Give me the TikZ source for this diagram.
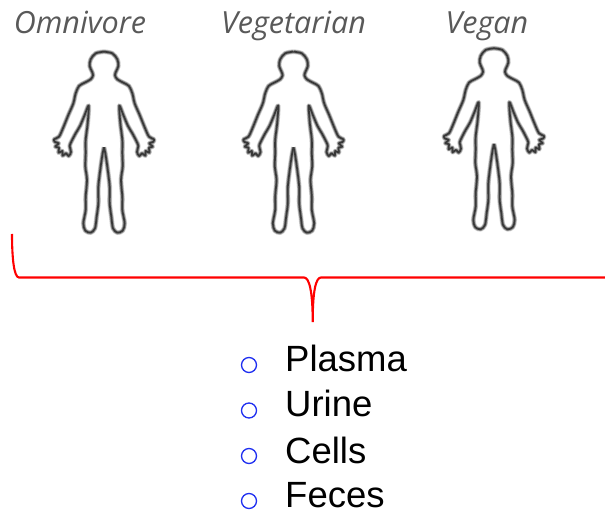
\documentclass[tikz,border=0pt]{standalone}
\usepackage{fontspec}
\setmainfont{Liberation Sans}
\newfontfamily\labelfont{Open Sans}
\definecolor{lab}{HTML}{595959}
\definecolor{bul}{HTML}{1F2FF0}
\tikzset{
  x=1pt,y=-1pt,
  figlabel/.style={font=\labelfont\itshape\fontsize{30.5}{34}\selectfont,text=lab,inner sep=0pt,anchor=base},
  item/.style={font=\fontsize{36.5}{40}\selectfont,text=black,inner sep=0pt,anchor=base west},
  dot/.style={circle,draw=bul,line width=1.3pt,minimum size=15pt,inner sep=0pt},
  bracket/.style={draw=red,line width=2.1pt},
}
\newcommand{\halfbody}{plot[smooth,tension=0.5] coordinates {
 (0,35)(25,40)(40,58)(43,78)(36,95)(33,106)(40,118)(58,128)(75,138)(85,160)(92,190)(107,225)(122,262)(135,290)(150,298)(147,306)(136,310)(146,320)(135,323)(136,338)(125,333)(124,347)(114,340)(106,348)(99,336)(103,318)(97,303)(85,280)(72,258)(58,225)(46,197)
 (49,250)(55,300)(55,340)(56,380)(51,420)(55,470)(55,510)(62,550)(56,572)(40,578)(27,565)(22,530)(17,490)(17,440)(10,380)(4,340)(0,322)}}
\newcommand{\bodylayer}[2]{%
 \draw[line width=#1,draw=#2,line join=round] \halfbody;
 \draw[line width=#1,draw=#2,line join=round,xscale=-1] \halfbody;}
\tikzset{humanbody/.pic={
 \begin{scope}[x=0.3333pt,y=-0.3333pt,shift={(0,-306)}]
 \bodylayer{4.8pt}{black!18}
 \bodylayer{3.4pt}{black!45}
 \bodylayer{1.7pt}{black!78}
 \end{scope}}}
\begin{document}
\begin{tikzpicture}
\useasboundingbox (0,0) rectangle (605,510);
\node[figlabel] (omni) at (80,34) {Omnivore};
\node[figlabel] (vege) at (293.5,34) {Vegetarian};
\node[figlabel] (vegan) at (487,34) {Vegan};
\pic (b1) at (104,142) {humanbody};
\pic (b2) at (293.5,142) {humanbody};
\pic (b3) at (494,138.6) {humanbody};
\coordinate (bl) at (12,234);
\coordinate (bc) at (312.7,322);
\coordinate (br) at (605,277.5);
\draw[bracket] (bl) .. controls (12,258) and (14,277.5) .. (19,277.5) -- (304,277.5) .. controls (309,277.5) and (312.7,290) .. (bc) .. controls (312.7,290) and (316,277.5) .. (321,277.5) -- (br);
\foreach \n/\t/\yb/\yd in {a/Plasma/371.5/365,b/Urine/417/410.5,c/Cells/463/456,d/Feces/507/501}{
  \node[dot] (d\n) at (249,\yd) {};
  \node[item] (t\n) at (285,\yb) {\t};
}
\end{tikzpicture}
\end{document}
